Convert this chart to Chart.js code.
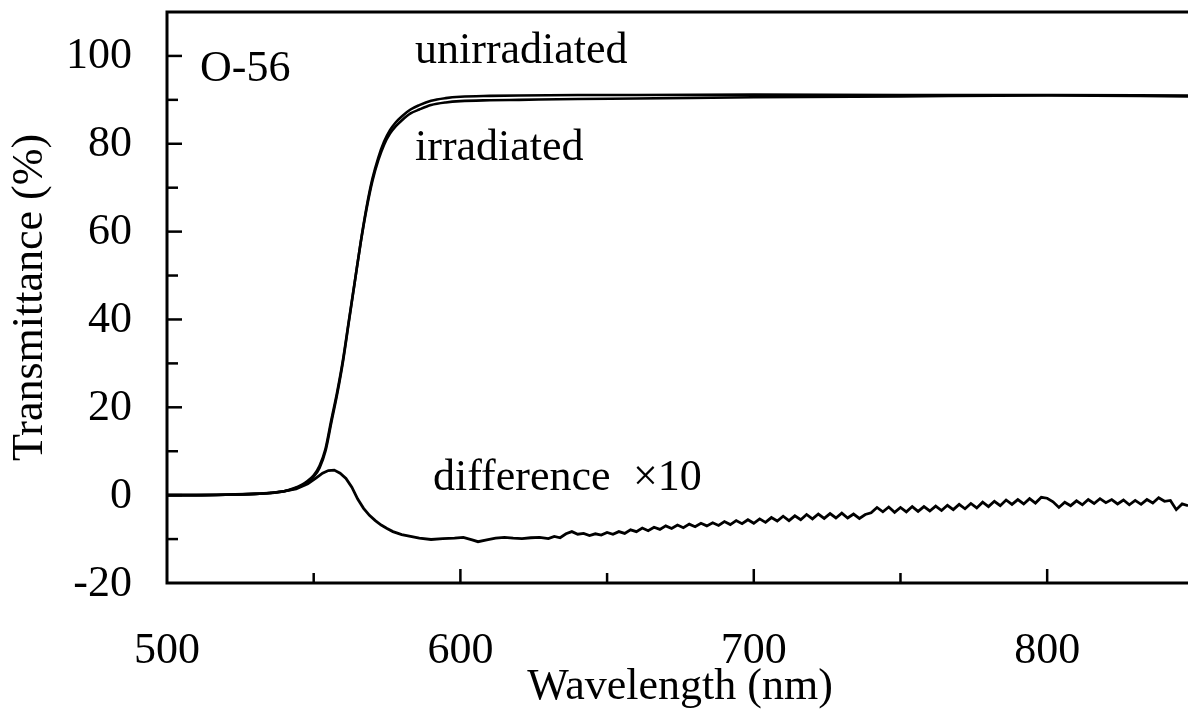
<!DOCTYPE html>
<html>
<head>
<meta charset="utf-8">
<script src="https://cdn.jsdelivr.net/npm/chart.js@4.4.0/dist/chart.umd.min.js"></script>
<style>
  body { margin: 0; background: #fff; }
  canvas { display: block; }
</style>
</head>
<body>
<canvas id="myChart" width="1188" height="720"></canvas>
<script>
// wavelength grid for the two transmittance curves (nm)
const wavelengths = [500, 510, 520, 530, 535, 540, 543, 546, 548, 550,
  552, 554, 556, 558, 560, 562, 564, 566, 568, 570,
  572, 574, 576, 578, 580, 583, 586, 590, 595, 600,
  610, 620, 640, 660, 700, 750, 800, 848];
const unirradiated = [0, 0, 0.1, 0.3, 0.5, 0.9, 1.4, 2.2, 3.0, 4.2,
  6.2, 10.0, 16.5, 23.0, 30.5, 39.5, 48.5, 57.5, 65.5, 72.0,
  76.8, 80.5, 83.1, 84.9, 86.2, 87.8, 88.8, 89.8, 90.4, 90.7,
  90.9, 91.0, 91.1, 91.1, 91.2, 91.1, 91.1, 91.0];
const irradiated = [0, 0, 0.1, 0.3, 0.5, 0.9, 1.5, 2.4, 3.3, 4.5,
  6.7, 10.5, 17.1, 23.5, 30.9, 39.8, 48.6, 57.4, 65.1, 71.5,
  76.2, 79.8, 82.3, 84.0, 85.3, 86.9, 87.8, 88.8, 89.4, 89.7,
  89.9, 90.0, 90.2, 90.3, 90.6, 90.8, 91.0, 90.8];

// difference x10 curve
const diffWl = [500, 510, 520, 530, 536, 540, 544, 548, 551, 553,
  555, 557, 559, 561, 563, 565, 567, 569, 571, 573,
  575, 577, 580, 583, 586, 590, 594, 598, 601, 604,
  606, 609, 612, 615, 618, 621, 624, 627,
  630, 632, 634, 636, 638, 640, 642, 644, 646, 648,
  650, 652, 654, 656, 658, 660, 662, 664, 666, 668,
  670, 672, 674, 676, 678, 680, 682, 684, 686, 688,
  690, 692, 694, 696, 698, 700, 702, 704, 706, 708,
  710, 712, 714, 716, 718, 720, 722, 724, 726, 728,
  730, 732, 734, 736, 738, 740, 742, 744, 746, 748,
  750, 752, 754, 756, 758, 760, 762, 764, 766, 768,
  770, 772, 774, 776, 778, 780, 782, 784, 786, 788,
  790, 792, 794, 796, 798, 800, 802, 804, 806, 808,
  810, 812, 814, 816, 818, 820, 822, 824, 826, 828,
  830, 832, 834, 836, 838, 840, 842, 844, 846, 848];
const difference = [0, 0, 0.1, 0.3, 0.5, 0.9, 1.4, 2.6, 4.0, 5.0,
  5.6, 5.7, 5.0, 3.8, 1.8, -0.9, -3.0, -4.6, -5.8, -6.8,
  -7.6, -8.3, -9.0, -9.4, -9.8, -10.1, -9.9, -9.8, -9.6, -10.2,
  -10.6, -10.2, -9.8, -9.6, -9.8, -9.9, -9.7, -9.6,
  -9.9, -9.4, -9.7, -8.8, -8.3, -8.9, -8.7, -9.2, -8.8, -9.1,
  -8.5, -8.9, -8.3, -8.7, -7.9, -8.3, -7.5, -8.1, -7.3, -7.8,
  -7.0, -7.6, -6.8, -7.4, -6.6, -7.2, -6.4, -7.0, -6.3, -6.9,
  -6.0, -6.7, -5.8, -6.5, -5.6, -6.4, -5.4, -6.2, -5.1, -5.9,
  -4.8, -5.8, -4.7, -5.6, -4.4, -5.4, -4.3, -5.3, -4.2, -5.2,
  -4.1, -5.2, -4.3, -5.3, -4.4, -4.0, -2.8, -3.8, -2.7, -3.9,
  -2.8, -3.8, -2.6, -3.7, -2.6, -3.6, -2.5, -3.5, -2.3, -3.3,
  -2.1, -3.1, -1.9, -2.9, -1.6, -2.6, -1.4, -2.4, -1.1, -2.1,
  -1.0, -2.0, -0.8, -1.8, -0.5, -0.7, -1.5, -2.8, -1.6, -2.4,
  -1.3, -2.2, -1.0, -1.9, -0.8, -1.7, -1.0, -2.0, -1.1, -2.2,
  -1.2, -2.1, -1.0, -1.8, -0.6, -1.4, -1.2, -3.3, -2.0, -2.4];

const xTicks = [550, 600, 650, 700, 750, 800];
const xLabels = [500, 600, 700, 800];
const yTicks = [-10, 0, 10, 20, 30, 40, 50, 60, 70, 80, 90, 100];
const yLabels = [-20, 0, 20, 40, 60, 80, 100];

const FONT = '44px "Liberation Serif", "Times New Roman", serif';

function toPoints(xs, ys) {
  return xs.map((x, i) => ({ x: x, y: ys[i] }));
}

const framePlugin = {
  id: 'frame',
  afterDraw: function(chart) {
    const { ctx, chartArea: { left, right, top, bottom } } = chart;
    const xs = chart.scales['x'];
    const ys = chart.scales['y'];
    ctx.save();
    ctx.strokeStyle = '#000';
    ctx.fillStyle = '#000';

    // axes box (right side runs off the page)
    ctx.lineWidth = 3;
    ctx.lineJoin = 'miter';
    ctx.beginPath();
    ctx.moveTo(right + 4, top);
    ctx.lineTo(left, top);
    ctx.lineTo(left, bottom);
    ctx.lineTo(right + 4, bottom);
    ctx.stroke();

    // inward ticks
    ctx.lineWidth = 2.5;
    xTicks.forEach(v => {
      const px = xs.getPixelForValue(v);
      const len = v % 100 === 0 ? 14 : 10;
      ctx.beginPath();
      ctx.moveTo(px, bottom);
      ctx.lineTo(px, bottom - len);
      ctx.stroke();
    });
    yTicks.forEach(v => {
      const py = ys.getPixelForValue(v);
      const len = v % 20 === 0 ? 15 : 11;
      ctx.beginPath();
      ctx.moveTo(left, py);
      ctx.lineTo(left + len, py);
      ctx.stroke();
    });

    // tick labels
    ctx.font = FONT;
    ctx.textBaseline = 'middle';
    ctx.textAlign = 'right';
    yLabels.forEach(v => {
      ctx.fillText(String(v), left - 35, ys.getPixelForValue(v) + 1);
    });
    ctx.textAlign = 'center';
    xLabels.forEach(v => {
      ctx.fillText(String(v), xs.getPixelForValue(v), bottom + 68);
    });

    // axis titles
    ctx.textBaseline = 'alphabetic';
    ctx.fillText('Wavelength (nm)', 680, 699);
    ctx.save();
    ctx.translate(42, (top + bottom) / 2);
    ctx.rotate(-Math.PI / 2);
    ctx.fillText('Transmittance (%)', 0, 0);
    ctx.restore();

    // in-plot labels
    ctx.textAlign = 'left';
    ctx.fillText('O-56', 200, 81);
    ctx.fillText('unirradiated', 415, 63);
    ctx.fillText('irradiated', 415, 160);
    ctx.fillText('difference', 433, 490);
    ctx.fillText('\u00d710', 633, 490);
    ctx.restore();
  }
};

const ctx = document.getElementById('myChart').getContext('2d');
const myChart = new Chart(ctx, {
  type: 'scatter',
  data: {
    datasets: [{
      label: 'unirradiated',
      data: toPoints(wavelengths, unirradiated),
      showLine: true,
      borderColor: '#000',
      borderWidth: 2.6,
      pointRadius: 0,
      cubicInterpolationMode: 'monotone'
    }, {
      label: 'irradiated',
      data: toPoints(wavelengths, irradiated),
      showLine: true,
      borderColor: '#000',
      borderWidth: 2.6,
      pointRadius: 0,
      cubicInterpolationMode: 'monotone'
    }, {
      label: 'difference x10',
      data: toPoints(diffWl, difference),
      showLine: true,
      borderColor: '#000',
      borderWidth: 2.8,
      pointRadius: 0,
      tension: 0
    }]
  },
  options: {
    responsive: false,
    animation: false,
    layout: {
      padding: { left: 167, top: 12, right: 0, bottom: 137 }
    },
    plugins: {
      legend: { display: false },
      tooltip: { enabled: false }
    },
    scales: {
      x: {
        type: 'linear',
        min: 500,
        max: 848,
        display: false
      },
      y: {
        type: 'linear',
        min: -20,
        max: 110,
        display: false
      }
    }
  },
  plugins: [framePlugin]
});
</script>
</body>
</html>
